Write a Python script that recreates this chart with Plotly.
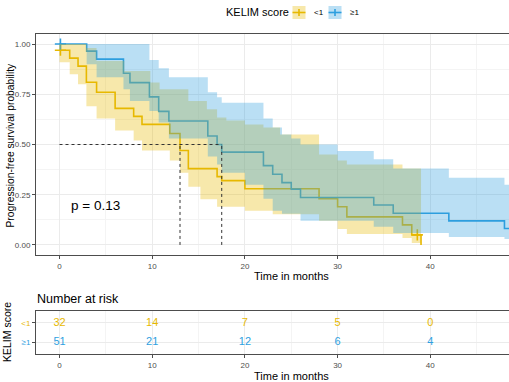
import plotly.graph_objects as go

# ---------------- data ----------------
group_names = ["<1", "≥1"]
colors = ["#E7B800", "#2E9FDF"]

# KM curve, KELIM < 1
t_lo = [0, 1.1, 2.0, 2.9, 4.0, 6.0, 8.0, 8.9, 11.9, 13.0, 13.9, 17.0, 17.5, 20.0, 28.0, 30.0, 31.0, 37.0, 38.0, 39.0]
s_lo = [0.969, 0.93, 0.89, 0.81, 0.76, 0.68, 0.64, 0.60, 0.555, 0.47, 0.38, 0.34, 0.32, 0.28, 0.23, 0.19, 0.14, 0.10, 0.05, 0.0]
# CI band, KELIM < 1
tb_lo = [0, 1.1, 2.0, 2.9, 4.0, 6.0, 7.0, 8.0, 8.9, 9.8, 10.8, 11.9, 13.0, 13.9, 15.2, 15.9, 17.0, 17.5, 18.0, 20.0, 22.0, 23.0, 23.8, 28.0, 30.0, 31.0, 37.0, 38.0, 39.0]
up_lo = [1.0, 1.0, 1.0, 0.98, 0.915, 0.915, 0.866, 0.866, 0.866, 0.808, 0.775, 0.775, 0.775, 0.716, 0.716, 0.675, 0.634, 0.634, 0.62, 0.60, 0.585, 0.585, 0.55, 0.45, 0.42, 0.40, 0.38, 0.38, 0.38]
lo_lo = [0.91, 0.85, 0.80, 0.69, 0.63, 0.57, 0.57, 0.52, 0.47, 0.47, 0.47, 0.42, 0.36, 0.29, 0.227, 0.227, 0.19, 0.19, 0.19, 0.17, 0.17, 0.153, 0.153, 0.12, 0.08, 0.055, 0.035, 0.01, 0.01]

# KM curve, KELIM >= 1
t_hi = [0, 2.93, 4.0, 6.9, 7.6, 9.7, 10.7, 11.8, 16.0, 17.0, 17.5, 22.0, 23.0, 24.0, 25.0, 26.0, 33.9, 36.0, 42.0, 48.0, 50.0]
s_hi = [1.0, 0.965, 0.925, 0.855, 0.808, 0.737, 0.665, 0.617, 0.542, 0.50, 0.462, 0.395, 0.352, 0.31, 0.278, 0.236, 0.199, 0.158, 0.12, 0.082, 0.082]
# CI band, KELIM >= 1
tb_hi = [0, 2.93, 4.0, 6.9, 7.6, 9.7, 10.7, 11.8, 16.0, 17.0, 17.5, 20.0, 22.0, 23.0, 24.0, 25.0, 26.0, 30.0, 33.9, 36.0, 42.0, 48.0, 50.0]
up_hi = [1.0, 1.0, 1.0, 1.0, 1.0, 0.92, 0.88, 0.835, 0.76, 0.735, 0.708, 0.708, 0.63, 0.584, 0.55, 0.53, 0.50, 0.468, 0.426, 0.38, 0.335, 0.30, 0.30]
lo_hi = [1.0, 0.90, 0.835, 0.775, 0.716, 0.667, 0.609, 0.53, 0.44, 0.40, 0.36, 0.30, 0.23, 0.17, 0.155, 0.155, 0.12, 0.12, 0.09, 0.06, 0.04, 0.03, 0.03]

# censor marks
cens_t = [[0.1, 38.6], [0.1]]
cens_s = [[0.969, 0.05], [1.0]]

medians = [13.0, 17.5]
p_text = "p = 0.13"

# risk table
risk_times = [0, 10, 20, 30, 40]
risk_lo = [32, 14, 7, 5, 0]
risk_hi = [51, 21, 12, 6, 4]

x_ticks = [0, 10, 20, 30, 40]
y_ticks = [0.0, 0.25, 0.5, 0.75, 1.0]
y_ticklabels = ["0.00", "0.25", "0.50", "0.75", "1.00"]

# ---------------- layout helpers ----------------
W, H = 509, 382
def fx(p):
    return p / W
def fy(p):
    return 1 - p / H

FONT = "Liberation Sans, Arial, sans-serif"
XR = [-2.535, 48.49]
fills = ["rgba(231,184,0,0.33)", "rgba(46,159,223,0.33)"]

fig = go.Figure()

# lines first (ribbons are drawn above them)
for tt, ss, c in [(t_lo, s_lo, colors[0]), (t_hi, s_hi, colors[1])]:
    fig.add_trace(go.Scatter(x=tt, y=ss, mode="lines", line=dict(color=c, width=1.6, shape="hv"),
                             hoverinfo="skip", showlegend=False))
for i in range(2):
    fig.add_trace(go.Scatter(x=cens_t[i], y=cens_s[i], mode="markers",
                             marker=dict(symbol="cross-thin", size=8, line=dict(width=1.6, color=colors[i])),
                             showlegend=False, hoverinfo="skip"))

# ribbons (yellow first, blue on top)
for tb, lo, up, fc in [(tb_lo, lo_lo, up_lo, fills[0]), (tb_hi, lo_hi, up_hi, fills[1])]:
    fig.add_trace(go.Scatter(x=tb, y=lo, mode="lines", line=dict(width=0, shape="hv"),
                             showlegend=False, hoverinfo="skip"))
    fig.add_trace(go.Scatter(x=tb, y=up, mode="lines", line=dict(width=0, shape="hv"),
                             fill="tonexty", fillcolor=fc, showlegend=False, hoverinfo="skip"))

# median lines
dash_col = "#333333"
fig.add_shape(type="line", xref="x", yref="y", x0=0, x1=max(medians), y0=0.5, y1=0.5,
              line=dict(color=dash_col, width=1, dash="3px,3px"))
for m in medians:
    fig.add_shape(type="line", xref="x", yref="y", x0=m, x1=m, y0=0, y1=0.5,
                  line=dict(color=dash_col, width=1, dash="3px,3px"))

# risk table numbers
fig.add_trace(go.Scatter(x=risk_times, y=[2] * len(risk_times), text=[str(v) for v in risk_lo],
                         mode="text", textfont=dict(color=colors[0], size=11, family=FONT),
                         xaxis="x2", yaxis="y2", showlegend=False, hoverinfo="skip"))
fig.add_trace(go.Scatter(x=risk_times, y=[1] * len(risk_times), text=[str(v) for v in risk_hi],
                         mode="text", textfont=dict(color=colors[1], size=11, family=FONT),
                         xaxis="x2", yaxis="y2", showlegend=False, hoverinfo="skip"))

axis_common = dict(showline=True, linecolor="#4d4d4d", linewidth=1, ticks="outside", ticklen=3,
                   tickcolor="#4d4d4d", tickfont=dict(size=8, color="#4d4d4d", family=FONT),
                   gridcolor="#EBEBEB", gridwidth=1, zeroline=False)

fig.update_layout(
    width=W, height=H, margin=dict(l=0, r=0, t=0, b=0),
    plot_bgcolor="white", paper_bgcolor="white",
    font=dict(family=FONT),
    xaxis=dict(domain=[fx(36), 1.0], range=XR, tickvals=x_ticks, mirror=True,
               minor=dict(dtick=5, tick0=0, showgrid=True, gridcolor="#F4F4F4", gridwidth=0.6),
               anchor="y", **axis_common),
    yaxis=dict(domain=[fy(255), fy(34)], range=[-0.05, 1.05], tickvals=y_ticks, ticktext=y_ticklabels,
               minor=dict(dtick=0.125, tick0=0, showgrid=True, gridcolor="#F4F4F4", gridwidth=0.6),
               anchor="x", **axis_common),
    xaxis2=dict(domain=[fx(36), 1.0], range=XR, tickvals=x_ticks, mirror=True,
                minor=dict(dtick=5, tick0=0, showgrid=True, gridcolor="#F4F4F4", gridwidth=0.6),
                anchor="y2", **axis_common),
    yaxis2=dict(domain=[fy(354.3), fy(311)], range=[0.4, 2.6], tickvals=[1, 2],
                ticktext=[f"<span style='color:{colors[1]}'>{group_names[1]}</span>",
                          f"<span style='color:{colors[0]}'>{group_names[0]}</span>"],
                anchor="x2", **axis_common),
)

ann = []
# axis titles
ann.append(dict(text="Time in months", x=fx(291), y=fy(276), xref="paper", yref="paper",
                showarrow=False, font=dict(size=11, color="black"), xanchor="center", yanchor="middle"))
ann.append(dict(text="Time in months", x=fx(291), y=fy(376), xref="paper", yref="paper",
                showarrow=False, font=dict(size=11, color="black"), xanchor="center", yanchor="middle"))
ann.append(dict(text="Progression-free survival probability", x=fx(9.5), y=fy(145), xref="paper", yref="paper",
                showarrow=False, textangle=-90, font=dict(size=10.3, color="black"),
                xanchor="center", yanchor="middle"))
ann.append(dict(text="KELIM score", x=fx(7), y=fy(332), xref="paper", yref="paper",
                showarrow=False, textangle=-90, font=dict(size=10.5, color="black"),
                xanchor="center", yanchor="middle"))
ann.append(dict(text="Number at risk", x=fx(35), y=fy(299), xref="paper", yref="paper",
                showarrow=False, font=dict(size=12.5, color="black"), xanchor="left", yanchor="middle"))
ann.append(dict(text=p_text, x=1.0, y=0.194, xref="x", yref="y", showarrow=False,
                font=dict(size=13.5, color="black"), xanchor="left", yanchor="middle"))

# manual legend
ann.append(dict(text="KELIM score", x=fx(224), y=fy(12.5), xref="paper", yref="paper", showarrow=False,
                font=dict(size=11, color="black"), xanchor="left", yanchor="middle"))
key_x = [(292.5, 305.5), (328.5, 341.5)]
lab_x = [311.5, 347.5]
shapes = []
for i in range(2):
    x0, x1 = key_x[i]
    shapes.append(dict(type="rect", xref="paper", yref="paper", x0=fx(x0), x1=fx(x1), y0=fy(19), y1=fy(6),
                       fillcolor=fills[i], line=dict(width=0), layer="above"))
    shapes.append(dict(type="line", xref="paper", yref="paper", x0=fx(x0), x1=fx(x1), y0=fy(12.5), y1=fy(12.5),
                       line=dict(color=colors[i], width=1.6), layer="above"))
    xc = (x0 + x1) / 2
    shapes.append(dict(type="line", xref="paper", yref="paper", x0=fx(xc), x1=fx(xc), y0=fy(9), y1=fy(16),
                       line=dict(color=colors[i], width=1.6), layer="above"))
    ann.append(dict(text=group_names[i], x=fx(lab_x[i]), y=fy(12.5), xref="paper", yref="paper",
                    showarrow=False, font=dict(size=8, color="black"), xanchor="left", yanchor="middle"))

fig.update_layout(annotations=ann)
for s in shapes:
    fig.add_shape(**s)

fig.write_html("out.html", config={"displayModeBar": False},
               post_script="document.body.style.margin='0';document.body.style.overflow='hidden';")
